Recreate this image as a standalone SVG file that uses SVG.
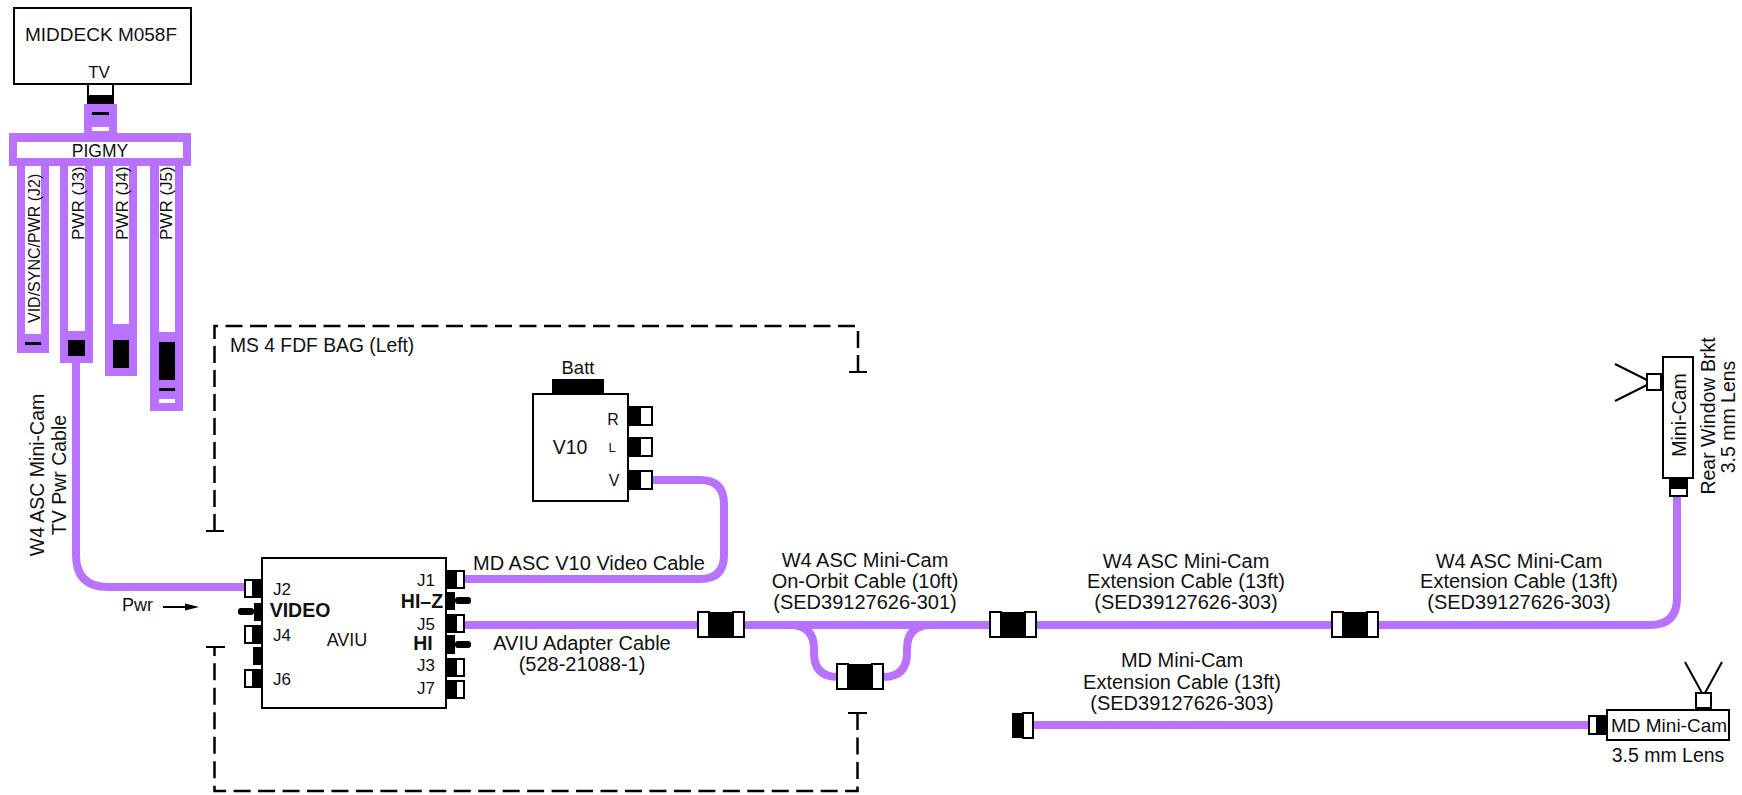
<svg xmlns="http://www.w3.org/2000/svg" width="1742" height="795" viewBox="0 0 1742 795">
<style>
text{font-family:"Liberation Sans",Arial,sans-serif;font-size:20px;fill:#111;text-anchor:middle}
.b{font-weight:bold;font-size:19.500px}
.j{font-size:17px}
.r{font-size:17px;text-anchor:start}
.st{text-anchor:start}
.l{fill:#fff;stroke:#000;stroke-width:2}
.k{fill:#000}
.w{fill:#fff}
.p{fill:#b872ff}
.c{fill:none;stroke:#b872ff;stroke-width:8}
.s{fill:none;stroke:#000;stroke-width:2}
.d{fill:none;stroke:#000;stroke-width:2.500;stroke-dasharray:17 7}
</style>
<g id="connectors">
<path class="c" d="M76 363V555Q76 587 108 587H245"/>
<path class="c" d="M650 480H700Q724 480 724 504V555Q724 579 700 579H446"/>
<path class="c" d="M446 625H1650Q1677 625 1677 598V496"/>
<path class="c" d="M790 625Q814 625 814 649V653Q814 677 838 677M883 677Q907 677 907 653V649Q907 625 931 625"/>
<path class="c" d="M1030 725H1590"/>
</g>
<g id="dash-top"><path class="d" d="M214.500 531V326H218"/><path class="d" style="stroke-dasharray:17 7.500" d="M225.500 326H855"/><path class="d" d="M858 372V330"/><path class="s" d="M206 531H224M849 372H867"/></g>
<g id="dash-bottom"><path class="d" style="stroke-dasharray:17 7.460" d="M857.500 713V791H214.500V647"/><path class="s" d="M206 647H225M848 713H867"/></g>
<text x="230" y="352" class="st" style="font-size:19.300px">MS 4 FDF BAG (Left)</text>
<g id="middeck"><rect class="l" x="14" y="8" width="177" height="76"/><text x="101" y="41" style="font-size:19px">MIDDECK M058F</text><text x="99" y="78" style="font-size:17px">TV</text>
<rect class="l" x="88" y="84" width="25" height="12"/><rect class="k" x="87" y="95" width="27" height="9"/></g>
<g id="pigmy">
<rect class="p" x="84" y="104" width="33" height="32"/><rect class="k" x="92" y="112" width="17" height="3"/><rect class="w" x="92" y="127" width="17" height="4"/>
<rect class="p" x="9" y="133" width="182" height="33"/><rect class="w" x="17" y="142" width="166" height="16"/><text x="100" y="157" style="font-size:17.500px">PIGMY</text>
<rect class="p" x="17" y="166" width="32" height="187"/><rect class="w" x="25" y="166" width="16" height="168"/><rect class="k" x="25" y="342" width="16" height="3"/>
<rect class="p" x="60" y="166" width="33" height="197"/><rect class="w" x="68" y="166" width="17" height="165"/><rect class="k" x="68" y="340" width="17" height="16"/>
<rect class="p" x="105" y="166" width="32" height="210"/><rect class="w" x="113" y="166" width="16" height="158"/><rect class="k" x="113" y="340" width="16" height="28"/>
<rect class="p" x="150" y="166" width="33" height="245"/><rect class="w" x="159" y="166" width="16" height="166"/><rect class="k" x="159" y="342" width="16" height="38"/><rect class="k" x="159" y="388" width="16" height="3"/><rect class="w" x="159" y="399" width="16" height="4"/>
<text transform="translate(40 323) rotate(-90)" class="r" style="font-size:16px">VID/SYNC/PWR (J2)</text>
<text transform="translate(84 240) rotate(-90)" class="r">PWR (J3)</text>
<text transform="translate(128 240) rotate(-90)" class="r">PWR (J4)</text>
<text transform="translate(172 240) rotate(-90)" class="r">PWR (J5)</text>
</g>
<text transform="translate(44 475) rotate(-90)" style="font-size:19.500px">W4 ASC Mini-Cam</text>
<text transform="translate(66 475) rotate(-90)" style="font-size:19.500px">TV Pwr Cable</text>
<g id="aviu"><rect class="l" x="262" y="558" width="184" height="150"/>
<rect class="l" x="245" y="580" width="8" height="17"/><rect class="k" x="253" y="579" width="9" height="19"/>
<rect class="k" x="254" y="603" width="9" height="18"/><rect class="k" x="238" y="608" width="16" height="7" rx="3"/>
<rect class="l" x="245" y="626" width="8" height="17"/><rect class="k" x="253" y="625" width="9" height="19"/>
<rect class="k" x="253" y="647" width="9" height="18"/>
<rect class="l" x="245" y="670" width="8" height="17"/><rect class="k" x="253" y="669" width="9" height="19"/>
<rect class="k" x="447" y="570" width="9" height="19"/><rect class="l" x="456" y="571" width="8" height="17"/>
<rect class="k" x="447" y="592" width="8" height="18"/><rect class="k" x="455" y="597" width="16" height="7" rx="3"/>
<rect class="k" x="447" y="614" width="9" height="19"/><rect class="l" x="456" y="615" width="8" height="17"/>
<rect class="k" x="447" y="635" width="8" height="19"/><rect class="k" x="455" y="641" width="16" height="7" rx="3"/>
<rect class="k" x="447" y="658" width="9" height="19"/><rect class="l" x="456" y="659" width="8" height="17"/>
<rect class="k" x="447" y="680" width="9" height="19"/><rect class="l" x="456" y="681" width="8" height="17"/>
<text x="282" y="595" class="j">J2</text><text x="282" y="641" class="j">J4</text><text x="282" y="685" class="j">J6</text>
<text x="300" y="617" class="b">VIDEO</text><text x="347" y="646" style="font-size:18px">AVIU</text>
<text x="426" y="586" class="j">J1</text><text x="422" y="608" class="b">HI–Z</text><text x="426" y="630" class="j">J5</text><text x="423" y="650" class="b">HI</text><text x="426" y="671" class="j">J3</text><text x="426" y="694" class="j">J7</text></g>
<g id="pwr-label"><text x="137.500" y="611" style="font-size:18px">Pwr</text><path class="s" d="M163 607H190"/><path class="k" d="M185 603.500L199 607L185 610.500Z"/></g>
<g id="v10"><rect class="k" x="552" y="379" width="52" height="17"/><rect class="l" x="533" y="394" width="95" height="107"/><text x="578" y="374" style="font-size:18.500px">Batt</text><text x="570" y="454" style="font-size:19.500px">V10</text>
<text x="613" y="425" style="font-size:16px">R</text><text x="612" y="452" style="font-size:13px">L</text><text x="614" y="486" style="font-size:16px">V</text>
<rect class="k" x="628" y="406" width="13" height="20"/><rect class="l" x="640" y="407" width="12" height="18"/>
<rect class="k" x="628" y="437" width="13" height="20"/><rect class="l" x="640" y="438" width="12" height="18"/>
<rect class="k" x="628" y="470" width="13" height="20"/><rect class="l" x="640" y="471" width="12" height="18"/></g>
<text x="589" y="570">MD ASC V10 Video Cable</text>
<text x="582" y="650">AVIU Adapter Cable</text><text x="582" y="671">(528-21088-1)</text>
<text x="865" y="567">W4 ASC Mini-Cam</text><text x="865" y="588">On-Orbit Cable (10ft)</text><text x="865" y="609">(SED39127626-301)</text>
<text x="1186" y="568">W4 ASC Mini-Cam</text><text x="1186" y="588">Extension Cable (13ft)</text><text x="1186" y="609">(SED39127626-303)</text>
<text x="1519" y="568">W4 ASC Mini-Cam</text><text x="1519" y="588">Extension Cable (13ft)</text><text x="1519" y="609">(SED39127626-303)</text>
<text x="1182" y="667">MD Mini-Cam</text><text x="1182" y="689">Extension Cable (13ft)</text><text x="1182" y="710">(SED39127626-303)</text>
<g id="j-a"><rect class="k" x="709" y="612" width="24" height="26"/><rect class="l" x="698" y="612" width="11" height="25"/><rect class="l" x="733" y="612" width="11" height="25"/></g>
<g id="j-b"><rect class="k" x="1001" y="612" width="24" height="26"/><rect class="l" x="990" y="612" width="11" height="25"/><rect class="l" x="1025" y="612" width="11" height="25"/></g>
<g id="j-c"><rect class="k" x="1343" y="612" width="24" height="26"/><rect class="l" x="1332" y="612" width="11" height="25"/><rect class="l" x="1367" y="612" width="11" height="25"/></g>
<g id="j-d"><rect class="k" x="848" y="664" width="24" height="26"/><rect class="l" x="837" y="664" width="11" height="25"/><rect class="l" x="872" y="664" width="11" height="25"/></g>
<g id="j-e"><rect class="k" x="1012" y="713" width="12" height="25"/><rect class="l" x="1023" y="713" width="10" height="25"/></g>
<g id="minicam-rear"><path class="s" d="M1615 364L1647 380M1615 401L1647 385"/><rect class="l" x="1647" y="374" width="14" height="16"/>
<rect class="k" x="1669" y="478" width="19" height="10"/><rect class="l" x="1670" y="488" width="17" height="8"/>
<rect class="l" x="1663" y="357" width="30" height="121"/><text transform="translate(1686 415) rotate(-90)" style="font-size:19.500px">Mini-Cam</text>
<text transform="translate(1715 416) rotate(-90)" style="font-size:19.500px">Rear Window Brkt</text><text transform="translate(1735 417) rotate(-90)" style="font-size:19.500px">3.5 mm Lens</text></g>
<g id="minicam-md"><path class="s" d="M1685 662L1702 693M1722 662L1705 693"/><rect class="l" x="1696" y="693" width="15" height="15"/>
<rect class="l" x="1589" y="716" width="8" height="18"/><rect class="k" x="1597" y="715" width="10" height="20"/>
<rect class="l" x="1607" y="710" width="122" height="30"/><text x="1669" y="732" style="font-size:19px">MD Mini-Cam</text><text x="1668" y="762" style="font-size:19.500px">3.5 mm Lens</text></g>
</svg>
